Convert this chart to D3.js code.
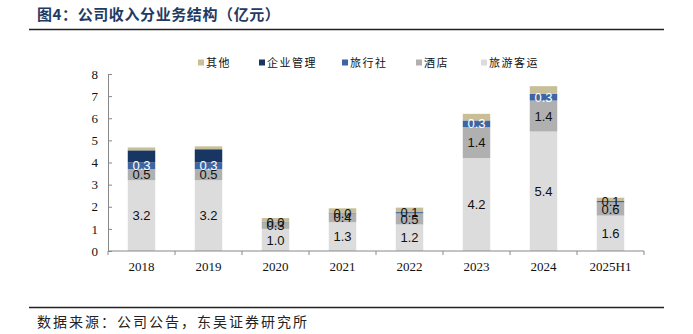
<!DOCTYPE html>
<html>
<head>
<meta charset="utf-8">
<script src="https://cdn.jsdelivr.net/npm/d3@7"></script>
<style>
  body { margin: 0; background: #fff; }
  svg { display: block; }
</style>
</head>
<body>
<div id="svganchor"></div>
<script>
let years = ["2018", "2019", "2020", "2021", "2022", "2023", "2024", "2025H1"];
let coach = [3.2, 3.2, 1.0, 1.3, 1.2, 4.2, 5.4, 1.6];      // 旅游客运
let hotel = [0.5, 0.5, 0.3, 0.4, 0.5, 1.4, 1.4, 0.6];      // 酒店
let agency = [0.3, 0.3, 0.02, 0.03, 0.06, 0.3, 0.3, 0.06]; // 旅行社
let mgmt = [0.55, 0.6, 0, 0, 0, 0, 0, 0];                  // 企业管理
let other = [0.13, 0.13, 0.17, 0.2, 0.2, 0.3, 0.35, 0.15]; // 其他
let yTicks = [0, 1, 2, 3, 4, 5, 6, 7, 8];

let width = 693;
let height = 334;
let margin = ({top: 74, right: 49, bottom: 83, left: 108});

// stacking order bottom -> top
let series = [
  {key: "旅游客运", values: coach, color: "#dcdcdc", label: true},
  {key: "酒店", values: hotel, color: "#b0b0b0", label: true},
  {key: "旅行社", values: agency, color: "#3e65a3", label: true},
  {key: "企业管理", values: mgmt, color: "#183664", label: false},
  {key: "其他", values: other, color: "#c8bf98", label: false}
];
let legendOrder = ["其他", "企业管理", "旅行社", "酒店", "旅游客运"];

let table = years.map((y, i) => {
  let row = {year: y};
  series.forEach(s => row[s.key] = s.values[i]);
  return row;
});

let stacked = d3.stack().keys(series.map(s => s.key))(table);

let svg = d3.select("#svganchor")
    .append("svg")
    .attr("width", width)
    .attr("height", height);

// title + rules
svg.append("text")
    .attr("x", 37)
    .attr("y", 20)
    .style("font-family", "'Noto Sans CJK SC'")
    .style("font-size", "15px")
    .style("font-weight", "bold")
    .style("letter-spacing", "0.6px")
    .attr("fill", "#1f3b64")
    .text("图4：公司收入分业务结构（亿元）");

svg.append("line")
    .attr("x1", 29).attr("x2", 664)
    .attr("y1", 29.5).attr("y2", 29.5)
    .attr("stroke", "#222").attr("stroke-width", 1.3);

svg.append("line")
    .attr("x1", 29).attr("x2", 664)
    .attr("y1", 307.5).attr("y2", 307.5)
    .attr("stroke", "#222").attr("stroke-width", 1.3);

svg.append("text")
    .attr("x", 37)
    .attr("y", 327)
    .style("font-family", "'Noto Sans CJK SC'")
    .style("font-size", "14px")
    .style("letter-spacing", "2px")
    .attr("fill", "#222")
    .text("数据来源：公司公告，东吴证券研究所");

let xScale = d3.scaleBand()
    .domain(years)
    .range([margin.left, width - margin.right])
    .paddingInner(0.59)
    .paddingOuter(0.295);

let xBoundary = d3.scaleLinear()
    .domain([0, years.length])
    .range([margin.left, width - margin.right]);

let yScale = d3.scaleLinear()
    .domain([0, 8])
    .range([height - margin.bottom, margin.top]);

// y axis
let yAxis = d3.axisLeft(yScale).tickValues(yTicks).tickSize(-4).tickPadding(10).tickFormat(d3.format("d"));
let gy = svg.append("g")
    .attr("transform", "translate(" + margin.left + ",0)")
    .call(yAxis);
gy.select(".domain").attr("stroke", "#888");
gy.selectAll(".tick line").attr("stroke", "#888");
gy.selectAll("text")
    .style("font-family", "'Liberation Serif', serif")
    .style("font-size", "13px")
    .attr("fill", "#111");

// bars
let layers = svg.selectAll(".layer")
    .data(stacked)
    .enter().append("g")
    .attr("class", "layer")
    .attr("fill", (d, i) => series[i].color);

layers.selectAll("rect")
    .data(d => d)
    .enter().append("rect")
    .attr("x", d => xScale(d.data.year))
    .attr("width", xScale.bandwidth())
    .attr("y", d => yScale(d[1]))
    .attr("height", d => yScale(d[0]) - yScale(d[1]));

// x axis
let gx = svg.append("g")
    .attr("transform", "translate(0," + (height - margin.bottom) + ")");
gx.append("line")
    .attr("x1", margin.left).attr("x2", width - margin.right)
    .attr("stroke", "#888");
gx.selectAll(".xtick")
    .data(d3.range(years.length + 1))
    .enter().append("line")
    .attr("x1", d => xBoundary(d)).attr("x2", d => xBoundary(d))
    .attr("y1", 0).attr("y2", 4)
    .attr("stroke", "#888");
gx.selectAll(".xlab")
    .data(years)
    .enter().append("text")
    .attr("x", d => xScale(d) + xScale.bandwidth() / 2)
    .attr("y", 20)
    .attr("text-anchor", "middle")
    .style("font-family", "'Liberation Serif', serif")
    .style("font-size", "13px")
    .attr("fill", "#111")
    .text(d => d);

// data labels
let fmt = d3.format(".1f");
stacked.forEach((layer, i) => {
  let s = series[i];
  if (!s.label) return;
  svg.selectAll(".lab" + i)
      .data(layer)
      .enter().append("text")
      .attr("x", d => xScale(d.data.year) + xScale.bandwidth() / 2)
      .attr("y", d => yScale((d[0] + d[1]) / 2))
      .attr("dy", "0.36em")
      .attr("text-anchor", "middle")
      .style("font-family", "'Liberation Sans', Arial, sans-serif")
      .style("font-size", "13px")
      .attr("fill", d => (s.key === "旅行社" && d[1] - d[0] >= 0.2) ? "#fff" : "#111")
      .text(d => fmt(d[1] - d[0]));
});

// legend
let legendX = [198, 259, 342, 416, 481];
let legend = svg.selectAll(".legend")
    .data(legendOrder)
    .enter().append("g")
    .attr("transform", (d, i) => "translate(" + legendX[i] + ",63)");
legend.append("rect")
    .attr("x", 0).attr("y", -3.5)
    .attr("width", 6).attr("height", 6)
    .attr("fill", d => series.find(s => s.key === d).color);
legend.append("text")
    .attr("x", 8)
    .attr("dy", "0.35em")
    .style("font-family", "'Noto Sans CJK SC'")
    .style("font-size", "11px")
    .style("letter-spacing", "1.5px")
    .attr("fill", "#111")
    .text(d => d);
</script>
</body>
</html>
